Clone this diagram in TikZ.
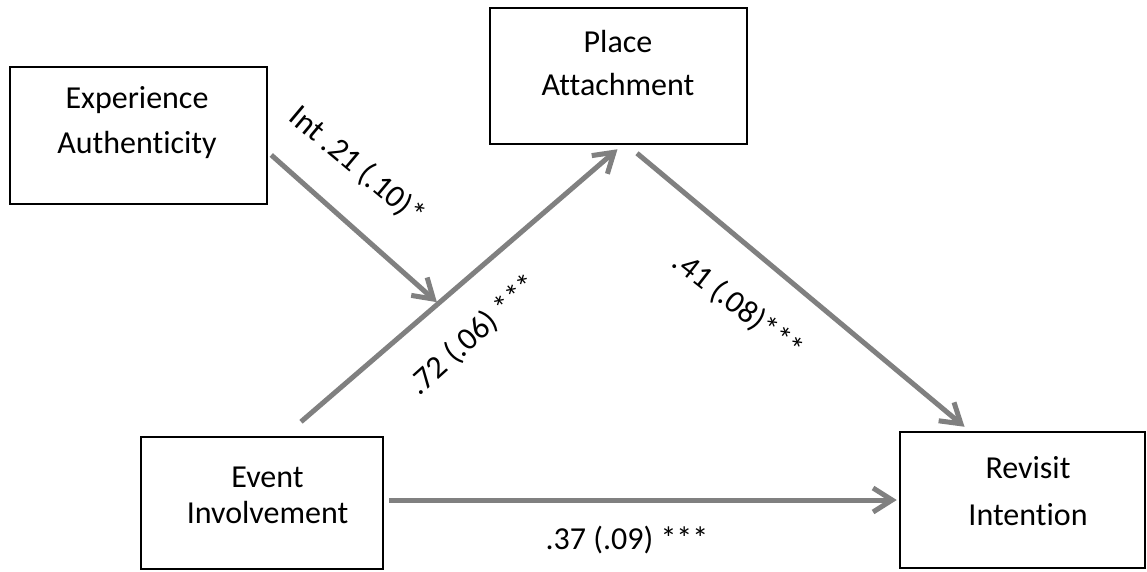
\documentclass[tikz,border=0pt]{standalone}
\usepackage{fontspec}
\setmainfont{Carlito}[Ligatures=NoCommon]
\usetikzlibrary{arrows.meta,calc}
\definecolor{arrowgray}{RGB}{128,128,128}
\begin{document}
\begin{tikzpicture}[x=1pt,y=-1pt,
  box/.style={draw=black, line width=2.5pt, rectangle, inner sep=0pt},
  boxtext/.style={inner sep=0pt, align=center, font=\fontsize{32pt}{#1}\selectfont},
  lbl/.style={inner sep=0pt, font=\fontsize{32pt}{38pt}\selectfont},
  arr/.style={draw=arrowgray, line width=5pt, -{Straight Barb[length=19pt,width=24pt]}}
]
\path[use as bounding box, fill=white] (0,0) rectangle (1147,571);

% boxes
\node[box, minimum width=257pt, minimum height=137pt] (ea) at (138.5,135.5) {};
\node[boxtext=45pt] (eat) at (137,122.5) {Experience\\Authenticity};
\node[box, minimum width=257pt, minimum height=136pt] (pa) at (618.5,76) {};
\node[boxtext=43pt] (pat) at (618,63.5) {Place\\Attachment};
\node[box, minimum width=242pt, minimum height=132pt] (ei) at (262,503) {};
\node[boxtext=36pt] (eit) at (267.5,495) {Event\\Involvement};
\node[box, minimum width=245pt, minimum height=136pt] (ri) at (1022.5,500) {};
\node[boxtext=47pt] (rit) at (1028,491.5) {Revisit\\Intention};

% connectors
\coordinate (s1) at ($(ei.north)+(39,-14)$);
\coordinate (e1) at ($(pa.south)+(-1,4)$);
\draw[arr] (s1) -- (e1);
\coordinate (s2) at ($(pa.south)+(18.5,8)$);
\coordinate (e2) at ($(ri.north)+(-58,-4)$);
\draw[arr] (s2) -- (e2);
\coordinate (s3) at ($(ei.east)+(5,-3)$);
\coordinate (e3) at ($(ri.west)+(-2,0)$);
\draw[arr] (s3) -- (e3);
\coordinate (m) at ($(s1)!0.434!(e1)$);
\coordinate (s4) at ($(ea.east)+(3,19.5)$);
\draw[arr, shorten >=2pt] (s4) -- (m);

% labels
\node[lbl, rotate=-40] (l1) at (357,166) {Int .21 (.10)*};
\node[lbl, rotate=42] (l2) at (474,335) {.72 (.06) ***};
\node[lbl, rotate=-38] (l3) at (738,306) {.41 (.08)***};
\node[lbl] (l4) at (627,540) {.37 (.09) ***};
\end{tikzpicture}
\end{document}
